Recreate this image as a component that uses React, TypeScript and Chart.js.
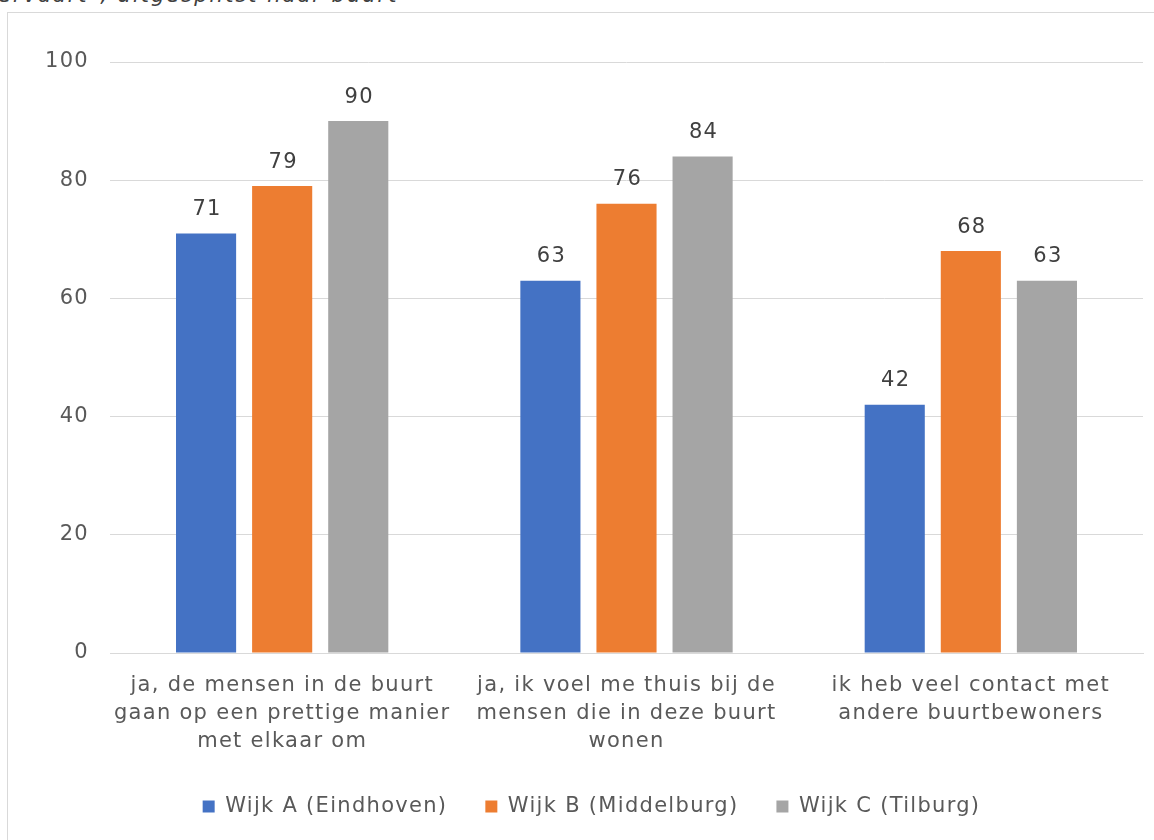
import React, { useEffect, useRef } from "react";
import { Chart, registerables } from "chart.js";

Chart.register(...registerables);

const categories: string[][] = [
  ["ja, de mensen in de buurt", "gaan op een prettige manier", "met elkaar om"],
  ["ja, ik voel me thuis bij de", "mensen die in deze buurt", "wonen"],
  ["ik heb veel contact met", "andere buurtbewoners"],
];
const seriesNames = ["Wijk A (Eindhoven)", "Wijk B (Middelburg)", "Wijk C (Tilburg)"];
const wijkA = [71, 63, 42];
const wijkB = [79, 76, 68];
const wijkC = [90, 84, 63];
const seriesColors = ["#4472C4", "#ED7D31", "#A5A5A5"];
const yTicks = [0, 20, 40, 60, 80, 100];
const titleText = "ervaart\", uitgesplitst naar buurt";

const FONT = "'DejaVu Sans', sans-serif";
const SIZE = 21;
const SPACING = "1.3px";

const letterSpacing = {
  id: "letterSpacing",
  beforeUpdate(chart: any) {
    chart.ctx.letterSpacing = SPACING;
  },
  beforeDraw(chart: any) {
    chart.ctx.letterSpacing = SPACING;
  },
};

const dataLabels = {
  id: "dataLabels",
  afterDatasetsDraw(chart: any) {
    const ctx = chart.ctx;
    ctx.save();
    ctx.letterSpacing = SPACING;
    ctx.font = `${SIZE}px ${FONT}`;
    ctx.fillStyle = "#404040";
    ctx.textAlign = "center";
    ctx.textBaseline = "middle";
    chart.data.datasets.forEach((ds: any, i: number) => {
      const meta = chart.getDatasetMeta(i);
      meta.data.forEach((el: any, j: number) => {
        ctx.fillText(String(ds.data[j]), el.x + 1, el.y - 24);
      });
    });
    ctx.restore();
  },
};

export default function App() {
  const ref = useRef<HTMLCanvasElement>(null);
  useEffect(() => {
    document.body.style.margin = "0";
    const chart = new Chart(ref.current!, {
      type: "bar",
      data: {
        labels: categories,
        datasets: [wijkA, wijkB, wijkC].map((d, i) => ({
          label: seriesNames[i],
          data: d,
          backgroundColor: seriesColors[i],
          categoryPercentage: 0.663,
          barPercentage: 0.79,
        })),
      },
      options: {
        animation: false,
        responsive: false,
        maintainAspectRatio: false,
        layout: { padding: { top: 49, bottom: 13, left: 32, right: 11 } },
        plugins: {
          legend: {
            position: "bottom",
            labels: {
              boxWidth: 12,
              boxHeight: 12,
              padding: 38,
              color: "#595959",
              font: { family: FONT, size: SIZE },
            },
          },
          tooltip: { enabled: false },
          title: { display: false },
        },
        scales: {
          x: {
            grid: { display: false, drawTicks: false },
            border: { display: true, color: "#D9D9D9" },
            ticks: {
              color: "#595959",
              font: { family: FONT, size: SIZE, lineHeight: 28 / SIZE },
              padding: 19,
              maxRotation: 0,
              autoSkip: false,
            },
            afterFit(scale: any) {
              scale.height = 105;
            },
          },
          y: {
            min: 0,
            max: 100,
            afterBuildTicks(scale: any) {
              scale.ticks = yTicks.map((v) => ({ value: v }));
            },
            grid: { color: "#D9D9D9", drawTicks: false, lineWidth: 1 },
            border: { display: false },
            ticks: {
              color: "#595959",
              font: { family: FONT, size: SIZE },
              padding: 21,
            },
            afterFit(scale: any) {
              scale.width = 70;
            },
          },
        },
      },
      plugins: [letterSpacing, dataLabels],
    });
    return () => chart.destroy();
  }, []);

  return (
    <div style={{ position: "relative", width: 1154, height: 840, overflow: "hidden", background: "#fff" }}>
      <div
        style={{
          position: "absolute",
          left: -2,
          top: -17,
          fontFamily: "'DejaVu Sans', sans-serif",
          fontStyle: "italic",
          fontSize: 21,
          letterSpacing: "2px",
          color: "#404040",
          whiteSpace: "nowrap",
        }}
      >
        {titleText}
      </div>
      <div
        style={{
          position: "absolute",
          left: 7,
          top: 12,
          width: 1200,
          height: 900,
          border: "1px solid #D9D9D9",
          boxSizing: "border-box",
        }}
      />
      <canvas
        ref={ref}
        width={1146}
        height={827}
        style={{ position: "absolute", left: 8, top: 13, width: 1146, height: 827 }}
      />
    </div>
  );
}
